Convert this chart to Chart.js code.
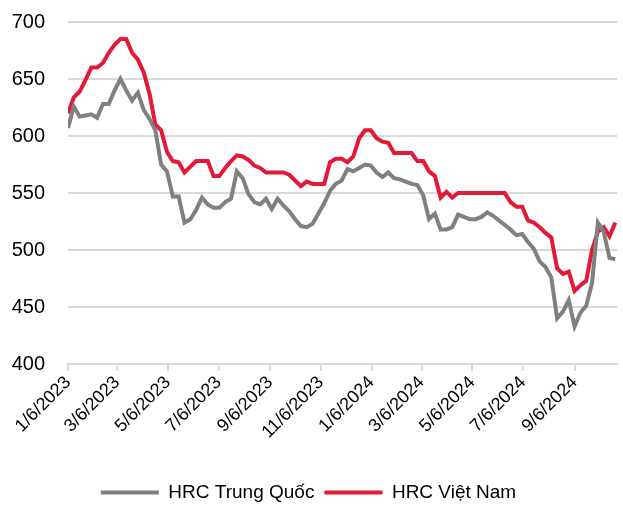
<!DOCTYPE html>
<html>
<head>
<meta charset="utf-8">
<script src="https://cdn.jsdelivr.net/npm/chart.js@4"></script>
<style>
html, body { margin: 0; padding: 0; background: #fff; overflow: hidden; }
#wrap { width: 623px; height: 506px; }
</style>
</head>
<body>
<div id="wrap"><canvas id="myChart"></canvas></div>
<script>
// weekly data, first week = 1/6/2023
var startDate = '2023-01-06'
var tickLabels = ['1/6/2023', '3/6/2023', '5/6/2023', '7/6/2023', '9/6/2023', '11/6/2023',
    '1/6/2024', '3/6/2024', '5/6/2024', '7/6/2024', '9/6/2024']
var seriesNames = ['HRC Trung Quốc', 'HRC Việt Nam']
var chinaValues = [607, 626, 617, 618, 619, 616, 628, 628, 640, 650,
    640, 631, 638, 623, 615, 605, 575, 569, 547, 547,
    524, 527, 535, 546, 540, 537, 537, 542, 545, 569,
    563, 549, 542, 540, 545, 536, 545, 539, 534, 527,
    521, 520, 523, 532, 541, 552, 558, 561, 571, 569,
    572, 575, 574, 568, 564, 568, 563, 562, 560, 558,
    557, 548, 527, 532, 518, 518, 520, 531, 529, 527,
    527, 529, 533, 530, 526, 522, 518, 513, 514, 507,
    501, 490, 485, 476, 440, 446, 456, 433, 445, 451,
    471, 524, 516, 493, 492]
var vietnamValues = [620, 634, 639, 649, 660, 660, 664, 673, 680, 685,
    685, 673, 667, 656, 637, 610, 605, 586, 578, 577,
    568, 573, 578, 578, 578, 565, 565, 572, 578, 583,
    582, 579, 574, 572, 568, 568, 568, 568, 566, 561,
    556, 560, 558, 558, 558, 577, 580, 580, 577, 582,
    598, 605, 605, 598, 595, 594, 585, 585, 585, 585,
    578, 578, 569, 565, 546, 551, 546, 550, 550, 550,
    550, 550, 550, 550, 550, 550, 542, 538, 538, 526,
    524, 520, 515, 511, 484, 479, 481, 464, 469, 473,
    500, 516, 520, 512, 524]
var colors = ['#808080', '#E31937']

var fontFamily = '"Liberation Sans", Arial, sans-serif'
var dayMs = 86400000
var t0 = Date.parse(startDate + 'T00:00:00Z')

function dayOffset(label) {
    var p = label.split('/')
    return Math.round((Date.UTC(+p[2], +p[0] - 1, +p[1]) - t0) / dayMs)
}
function toPoints(values) {
    return values.map(function (v, i) { return { x: i * 7, y: v } })
}
var tickDays = tickLabels.map(dayOffset)

new Chart(document.getElementById('myChart').getContext('2d'), {
    type: 'line',
    data: {
        datasets: [
            {
                label: seriesNames[0],
                data: toPoints(chinaValues),
                borderColor: colors[0],
                backgroundColor: colors[0],
                borderWidth: 4,
                pointRadius: 0,
                tension: 0
            },
            {
                label: seriesNames[1],
                data: toPoints(vietnamValues),
                borderColor: colors[1],
                backgroundColor: colors[1],
                borderWidth: 4,
                pointRadius: 0,
                tension: 0
            }
        ]
    },
    options: {
        responsive: true,
        maintainAspectRatio: false,
        animation: false,
        layout: { padding: { top: 22, right: 6, bottom: -6, left: 0 } },
        plugins: {
            tooltip: { enabled: false },
            legend: {
                position: 'bottom',
                labels: {
                    usePointStyle: true,
                    pointStyle: 'line',
                    pointStyleWidth: 58,
                    color: '#000',
                    padding: 10,
                    font: { family: fontFamily, size: 19 }
                }
            }
        },
        scales: {
            x: {
                type: 'linear',
                min: 0,
                max: 660,
                afterBuildTicks: function (scale) {
                    scale.ticks = tickDays.map(function (d) { return { value: d } })
                },
                afterFit: function (scale) {
                    scale.height = 109
                    scale.paddingTop = 0
                    scale.paddingBottom = 0
                },
                grid: { display: true, drawOnChartArea: false, drawTicks: true, tickLength: 7, color: '#d9d9d9', lineWidth: 2 },
                border: { display: true, color: '#d9d9d9', width: 2 },
                ticks: {
                    autoSkip: false,
                    maxRotation: 45,
                    minRotation: 45,
                    padding: 1,
                    color: '#000',
                    font: { family: fontFamily, size: 18 },
                    callback: function (value) {
                        var i = tickDays.indexOf(value)
                        return i >= 0 ? tickLabels[i] : ''
                    }
                }
            },
            y: {
                min: 400,
                max: 700,
                afterFit: function (scale) {
                    scale.width = 68
                    scale.paddingTop = 0
                    scale.paddingBottom = 0
                },
                grid: { color: '#d9d9d9', lineWidth: 2, drawTicks: false },
                border: { display: false },
                ticks: {
                    stepSize: 50,
                    padding: 23,
                    color: '#000',
                    font: { family: fontFamily, size: 20 }
                }
            }
        }
    }
})
</script>
</body>
</html>
